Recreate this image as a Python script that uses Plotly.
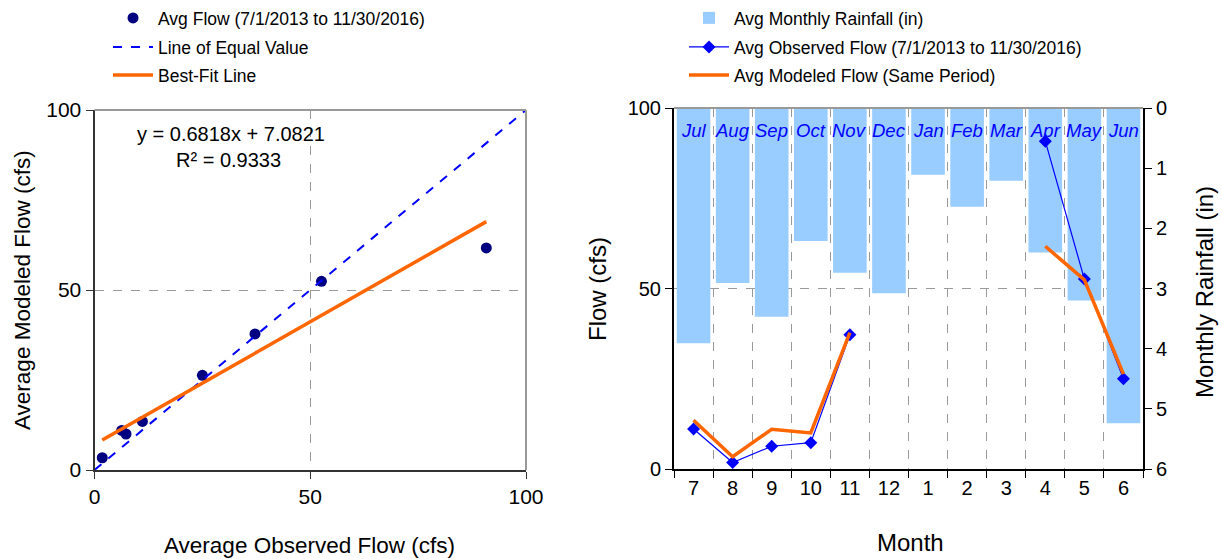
import plotly.graph_objects as go

# ---------------- data ----------------
month_nums = ['7', '8', '9', '10', '11', '12', '1', '2', '3', '4', '5', '6']
month_names = ['Jul', 'Aug', 'Sep', 'Oct', 'Nov', 'Dec', 'Jan', 'Feb', 'Mar', 'Apr', 'May', 'Jun']
rainfall_in = [3.91, 2.91, 3.47, 2.21, 2.74, 3.08, 1.11, 1.64, 1.21, 2.40, 3.20, 5.24]
observed_cfs = [11.1, 1.8, 6.3, 7.3, 37.2, None, None, None, None, 90.8, 52.6, 25.0]
modeled_cfs = [13.5, 3.4, 11.0, 10.0, 37.8, None, None, None, None, 61.7, 52.4, 26.3]
fit_slope = 0.6818
fit_intercept = 7.0821
fit_r2 = 0.9333

FONT = "Liberation Sans, Arial, sans-serif"
W, H = 1222, 559

pairs = [(o, m) for o, m in zip(observed_cfs, modeled_cfs) if o is not None and m is not None]
sc_x = [p[0] for p in pairs]
sc_y = [p[1] for p in pairs]
fx = [min(sc_x), max(sc_x)]
fy = [fit_slope * v + fit_intercept for v in fx]
xpos = list(range(len(month_nums)))

fig = go.Figure()

# ---------- left chart ----------
fig.add_trace(go.Scatter(x=sc_x, y=sc_y, mode='markers', name='Avg Flow (7/1/2013 to 11/30/2016)',
                         marker=dict(color='#000080', size=11), xaxis='x', yaxis='y', legend='legend', showlegend=True))
fig.add_trace(go.Scatter(x=[0, 100], y=[0, 100], mode='lines', name='Line of Equal Value',
                         line=dict(color='#0000FF', width=2, dash='dash'), xaxis='x', yaxis='y', legend='legend2', showlegend=True))
fig.add_trace(go.Scatter(x=fx, y=fy, mode='lines', name='Best-Fit Line',
                         line=dict(color='#FF6600', width=3.5), xaxis='x', yaxis='y', legend='legend3', showlegend=True))

# ---------- right chart ----------
fig.add_trace(go.Bar(x=xpos, y=rainfall_in, name='Avg Monthly Rainfall (in)', marker=dict(color='#99CCFF', line=dict(width=0)),
                     width=0.86, xaxis='x2', yaxis='y2', legend='legend4', showlegend=True))
fig.add_trace(go.Scatter(x=xpos, y=observed_cfs, mode='lines+markers', name='Avg Observed Flow (7/1/2013 to 11/30/2016)',
                         line=dict(color='#0000FF', width=1.2), marker=dict(symbol='diamond', size=10, color='#0000FF'),
                         connectgaps=False, xaxis='x2', yaxis='y3', legend='legend5', showlegend=True))
fig.add_trace(go.Scatter(x=xpos, y=modeled_cfs, mode='lines', name='Avg Modeled Flow (Same Period)',
                         line=dict(color='#FF6600', width=3.5), connectgaps=False, xaxis='x2', yaxis='y3', legend='legend6',
                         showlegend=True))

L_x0, L_x1, L_y0, L_y1 = 94.5, 526, 470, 110
R_x0, R_x1, R_y0, R_y1 = 674, 1143, 469, 108

def px_x(v):
    return v / W

def px_y(v):
    return 1 - v / H

tickfont = dict(family=FONT, size=21, color='black')
grid = dict(showgrid=True, gridcolor='#9a9a9a', griddash='dash', gridwidth=1)

def leg(xp, yp):
    return dict(x=px_x(xp), y=px_y(yp), xanchor='left', yanchor='middle', bgcolor='rgba(0,0,0,0)',
                font=dict(family=FONT, size=17.5, color='black'), itemwidth=40, borderwidth=0, visible=True)

fig.update_layout(
    width=W, height=H, margin=dict(l=0, r=0, t=0, b=0, autoexpand=False),
    paper_bgcolor='white', plot_bgcolor='white',
    font=dict(family=FONT, color='black'),
    barmode='overlay', showlegend=True,
    xaxis=dict(domain=[px_x(L_x0), px_x(L_x1)], range=[0, 100], tickvals=[0, 50, 100], automargin=False,
               showline=True, linecolor='#333333', linewidth=2, ticks='outside', ticklen=7, tickcolor='#333333',
               tickfont=tickfont, zeroline=False, anchor='y', **grid),
    yaxis=dict(domain=[px_y(L_y0), px_y(L_y1)], range=[0, 100], tickvals=[0, 50, 100], automargin=False,
               showline=True, linecolor='#333333', linewidth=2, ticks='outside', ticklen=7, tickcolor='#333333',
               tickfont=tickfont, zeroline=False, anchor='x', **grid),
    xaxis2=dict(domain=[px_x(R_x0), px_x(R_x1)], range=[-0.5, 11.5], tickvals=xpos, ticktext=month_nums,
                ticks='', showgrid=False, showline=True, linecolor='black', linewidth=2, zeroline=False, automargin=False,
                tickfont=dict(family=FONT, size=20, color='black'), anchor='y3',
                minor=dict(tick0=-0.5, dtick=1, ticks='outside', ticklen=7, tickcolor='black',
                           showgrid=True, gridcolor='#9a9a9a', griddash='dash', gridwidth=1)),
    yaxis2=dict(domain=[px_y(R_y0), px_y(R_y1)], range=[6, 0], tickvals=[0, 1, 2, 3, 4, 5, 6], side='right', automargin=False,
                showline=True, linecolor='black', linewidth=2, ticks='outside', ticklen=7, tickcolor='black',
                tickfont=dict(family=FONT, size=20, color='black'), showgrid=False, zeroline=False, anchor='x2'),
    yaxis3=dict(domain=[px_y(R_y0), px_y(R_y1)], range=[0, 100], tickvals=[0, 50, 100], side='left', overlaying='y2',
                automargin=False,
                showline=True, linecolor='black', linewidth=2, ticks='outside', ticklen=7, tickcolor='black',
                tickfont=dict(family=FONT, size=20, color='black'), zeroline=False, anchor='x2', **grid),
    legend=leg(108, 18),
    legend2=leg(108, 47),
    legend3=leg(108, 75),
    legend4=leg(684, 18),
    legend5=leg(684, 47),
    legend6=leg(684, 75),
)

# borders (gray top/right on left chart, gray top on right chart)
fig.add_shape(type='line', xref='x domain', yref='y domain', x0=0, x1=1, y0=1, y1=1, line=dict(color='#999999', width=2))
fig.add_shape(type='line', xref='x domain', yref='y domain', x0=1, x1=1, y0=0, y1=1, line=dict(color='#999999', width=2))
fig.add_shape(type='line', xref='x2 domain', yref='y2 domain', x0=0, x1=1, y0=1, y1=1, line=dict(color='#999999', width=2))

# equation
fig.add_annotation(xref='x', yref='y', x=(135 - L_x0) / (L_x1 - L_x0) * 100, y=(L_y0 - 134) / (L_y0 - L_y1) * 100,
                   text=f'y = {fit_slope:.4f}x + {fit_intercept:.4f}', showarrow=False, xanchor='left', yanchor='middle',
                   font=dict(family=FONT, size=20, color='black'))
fig.add_annotation(xref='x', yref='y', x=(228 - L_x0) / (L_x1 - L_x0) * 100, y=(L_y0 - 160) / (L_y0 - L_y1) * 100,
                   text=f'R² = {fit_r2:.4f}', showarrow=False, xanchor='center', yanchor='middle',
                   font=dict(family=FONT, size=20, color='black'))

# month names inside bars
for xi, nm in zip(xpos, month_names):
    fig.add_annotation(xref='x2', yref='y2', x=xi, y=0.37, text=f'<i>{nm}</i>', showarrow=False,
                       font=dict(family=FONT, size=18.5, color='#0000FF'), xanchor='center', yanchor='middle')

# axis titles
tfont = dict(family=FONT, size=22.5, color='black')
fig.add_annotation(xref='paper', yref='paper', x=px_x(309), y=px_y(545), text='Average Observed Flow (cfs)',
                   showarrow=False, font=tfont, xanchor='center', yanchor='middle')
fig.add_annotation(xref='paper', yref='paper', x=px_x(22), y=px_y(290), text='Average Modeled Flow (cfs)',
                   showarrow=False, font=tfont, textangle=-90, xanchor='center', yanchor='middle')
tfont2 = dict(family=FONT, size=24, color='black')
fig.add_annotation(xref='paper', yref='paper', x=px_x(910), y=px_y(542), text='Month',
                   showarrow=False, font=tfont2, xanchor='center', yanchor='middle')
fig.add_annotation(xref='paper', yref='paper', x=px_x(598), y=px_y(289), text='Flow (cfs)',
                   showarrow=False, font=tfont2, textangle=-90, xanchor='center', yanchor='middle')
fig.add_annotation(xref='paper', yref='paper', x=px_x(1204), y=px_y(292), text='Monthly Rainfall (in)',
                   showarrow=False, font=tfont2, textangle=-90, xanchor='center', yanchor='middle')

fig.write_html('out.html', config={'displayModeBar': False},
               post_script="document.body.style.margin='0px';document.body.style.overflow='hidden';")
